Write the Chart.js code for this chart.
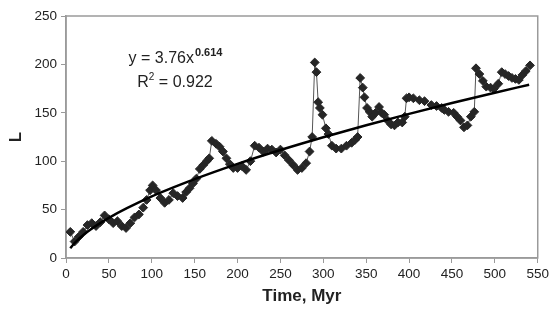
<!DOCTYPE html>
<html>
<head>
<meta charset="utf-8">
<script src="https://cdn.jsdelivr.net/npm/chart.js@4"></script>
<style>
  html, body { margin: 0; padding: 0; background: #fff; }
  #wrap { width: 552px; height: 320px; }
</style>
</head>
<body>
<div id="wrap"><canvas id="scatter-chart"></canvas></div>
<script>
// time (Myr) and L values
var times = [5,10,15,20,25,30,35,40,45,50,55,60,65,70,75,80,85,90,94,98,101,105,110,115,120,125,130,136,140,144,148,152,156,160,164,167,170,175,179,183,187,191,195,200,205,210,215,220,225,230,235,240,245,250,255,260,265,270,275,280,284,287,290,292,294,296,299,303,306,310,315,321,327,333,337,340,343,346,348,351,354,357,361,365,368,371,375,379,383,387,392,395,397,400,405,412,418,426,432,438,441,446,452,456,460,464,468,472,476,478,482,486,490,495,499,504,508,512,516,520,524,528,532,536,541];
var lValues = [27,17,22,27,34,36,33,37,44,40,36,38,33,31,36,42,45,52,60,70,75,70,62,57,60,67,64,62,68,72,77,82,92,96,100,103,121,118,115,110,103,97,93,93,95,91,100,116,114,110,113,112,109,112,106,101,96,91,93,98,110,125,202,192,161,155,148,134,128,116,113,113,116,119,122,125,186,176,166,155,151,146,150,156,150,148,142,138,137,140,140,146,165,166,165,163,162,158,157,155,153,151,150,146,142,135,137,146,151,196,190,183,177,176,175,180,192,190,188,186,185,184,189,193,199];

// power-law trend line y = 3.76x^0.614, values tabulated
var trendT = [5,10,25,50,100,150,200,250,300,350,400,450,500,540];
var trendL = [10.1,15.5,27.1,41.5,63.6,81.5,97.3,111.6,124.8,137.2,148.9,160.1,170.8,179.0];

var xTicks = [0,50,100,150,200,250,300,350,400,450,500,550];
var yTicks = [0,50,100,150,200,250];

var seriesPts = times.map(function (t, i) { return { x: t, y: lValues[i] }; });
var trendPts = trendT.map(function (t, i) { return { x: t, y: trendL[i] }; });

var FONT = '"Liberation Sans", Arial, sans-serif';

// plot border + equation text
var extras = {
  id: 'extras',
  beforeDatasetsDraw: function (chart) {
    var a = chart.chartArea, ctx = chart.ctx;
    ctx.save();
    ctx.strokeStyle = '#9a9a9a';
    ctx.lineWidth = 1.5;
    ctx.strokeRect(a.left, a.top, a.right - a.left, a.bottom - a.top);
    ctx.restore();
  },
  afterDraw: function (chart) {
    var ctx = chart.ctx;
    var cx = 175;
    ctx.save();
    ctx.fillStyle = '#222';
    ctx.textBaseline = 'alphabetic';
    ctx.font = '16px ' + FONT;
    var main = 'y = 3.76x';
    var w1 = ctx.measureText(main).width;
    ctx.font = 'bold 11px ' + FONT;
    var w2 = ctx.measureText('0.614').width;
    var x0 = cx - (w1 + w2) / 2;
    ctx.font = '16px ' + FONT;
    ctx.fillText(main, x0, 63);
    ctx.font = 'bold 11px ' + FONT;
    ctx.fillText('0.614', x0 + w1 + 1, 56);
    ctx.font = '16px ' + FONT;
    var r1 = 'R', r2 = ' = 0.922';
    var wr1 = ctx.measureText(r1).width, wr2 = ctx.measureText(r2).width;
    ctx.font = '10px ' + FONT;
    var ws = ctx.measureText('2').width;
    var xr = cx - (wr1 + ws + wr2) / 2;
    ctx.font = '16px ' + FONT;
    ctx.fillText(r1, xr, 87);
    ctx.fillText(r2, xr + wr1 + ws, 87);
    ctx.font = '10px ' + FONT;
    ctx.fillText('2', xr + wr1, 80);
    ctx.restore();
  }
};

new Chart(document.getElementById("scatter-chart"), {
  type: 'scatter',
  data: {
    datasets: [
      {
        data: seriesPts,
        showLine: true,
        borderColor: '#555',
        borderWidth: 1,
        pointStyle: 'rectRot',
        pointRadius: 4.4,
        pointBackgroundColor: '#262626',
        pointBorderColor: '#262626',
        pointBorderWidth: 1,
        order: 2
      },
      {
        data: trendPts,
        showLine: true,
        borderColor: '#000',
        borderWidth: 2.5,
        pointRadius: 0,
        cubicInterpolationMode: 'monotone',
        order: 1
      }
    ]
  },
  options: {
    responsive: true,
    maintainAspectRatio: false,
    animation: false,
    layout: { padding: { top: 16, right: 14, left: 0, bottom: 0 } },
    plugins: { legend: { display: false }, tooltip: { enabled: false } },
    scales: {
      x: {
        type: 'linear', min: 0, max: 550,
        afterBuildTicks: function (s) { s.ticks = xTicks.map(function (v) { return { value: v }; }); },
        afterFit: function (s) { s.height = 62; },
        grid: { drawOnChartArea: false, color: '#9a9a9a', tickLength: 5, tickColor: '#9a9a9a' },
        border: { color: '#9a9a9a', width: 1.5 },
        ticks: { color: '#222', padding: 3, maxRotation: 0, font: { family: FONT, size: 13.5 } },
        title: { display: true, text: 'Time, Myr', color: '#222', padding: { top: 4, bottom: 13 }, font: { family: FONT, size: 17, weight: 'bold' } }
      },
      y: {
        min: 0, max: 250,
        afterBuildTicks: function (s) { s.ticks = yTicks.map(function (v) { return { value: v }; }); },
        afterFit: function (s) { s.width = 66; },
        grid: { drawOnChartArea: false, color: '#9a9a9a', tickLength: 5, tickColor: '#9a9a9a' },
        border: { color: '#9a9a9a', width: 1.5 },
        ticks: { color: '#222', padding: 4, font: { family: FONT, size: 13.5 } },
        title: { display: true, text: 'L', color: '#222', padding: { bottom: 0, top: 6 }, font: { family: FONT, size: 17, weight: 'bold' } }
      }
    }
  },
  plugins: [extras]
});
</script>
</body>
</html>
